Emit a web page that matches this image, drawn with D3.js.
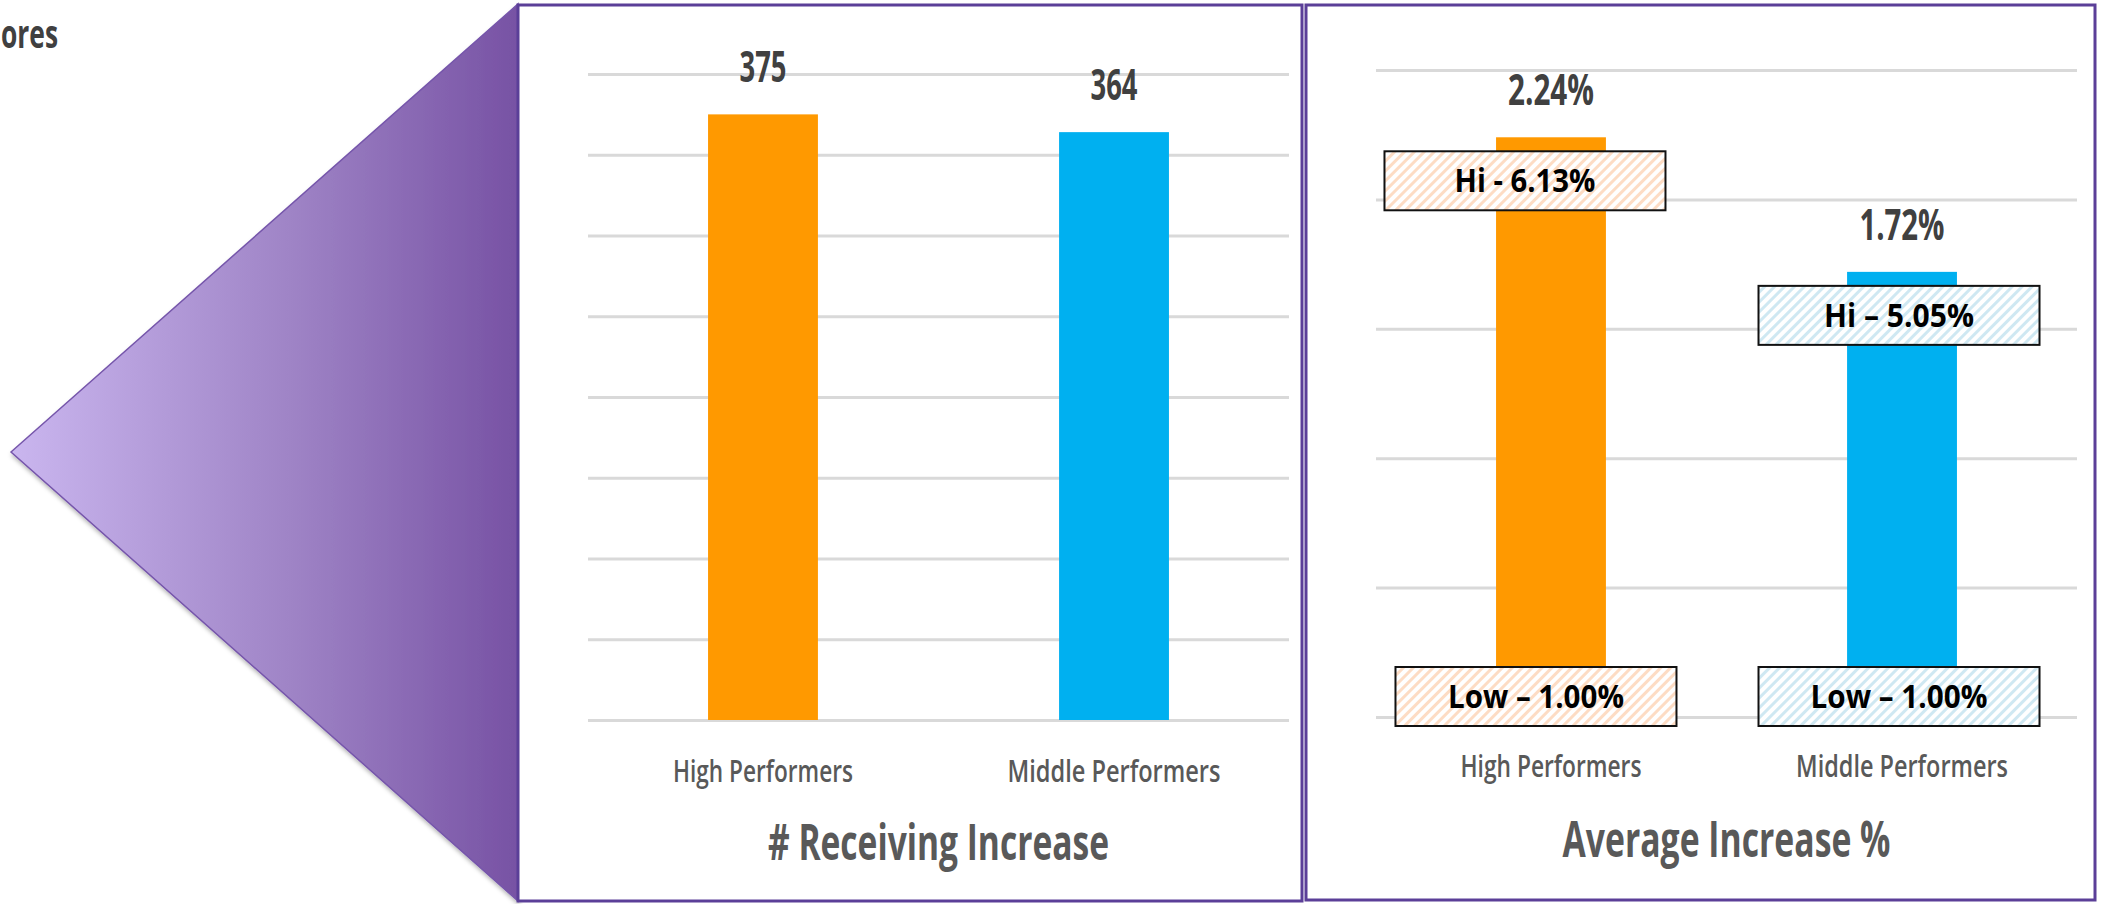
<!DOCTYPE html>
<html>
<head>
<meta charset="utf-8">
<script src="https://cdn.jsdelivr.net/npm/d3@7"></script>
<style>
  body { margin: 0; background: #fff; overflow: hidden; }
  svg { display: block; font-family: 'Open Sans', sans-serif; }
</style>
</head>
<body>
<div id="chart"></div>
<script>
// chart data
const categories = ['High Performers', 'Middle Performers']
const receivingIncrease = [375, 364]
const receivingLabels = ['375', '364']
const averageIncrease = [2.24, 1.72]
const averageLabels = ['2.24%', '1.72%']
const hiLabels = ['Hi - 6.13%', 'Hi \u2013 5.05%']
const lowLabels = ['Low \u2013 1.00%', 'Low \u2013 1.00%']
const countTicks = [0, 50, 100, 150, 200, 250, 300, 350, 400]
const percentTicks = [0, 0.5, 1, 1.5, 2, 2.5]
const panelTitles = ['# Receiving Increase', 'Average Increase %']

// styles
const barColors = ['#ff9900', '#00b0f0']
const hatchColors = ['#fddcc4', '#cfe8f2']
const frameColor = '#5b3f98'

const svg = d3.select('#chart')
    .append('svg')
    .attr('width', 2101)
    .attr('height', 904)

const defs = svg.append('defs')

// gradient + shadow for the callout triangle
const grad = defs.append('linearGradient')
    .attr('id', 'tri-grad')
    .attr('x1', '0%').attr('x2', '100%')
    .attr('y1', '0%').attr('y2', '0%')
grad.append('stop').attr('offset', '0%').attr('stop-color', '#cab6ef')
grad.append('stop').attr('offset', '55%').attr('stop-color', '#9f84c6')
grad.append('stop').attr('offset', '100%').attr('stop-color', '#7752a4')

const shadow = defs.append('filter').attr('id', 'tri-shadow')
    .attr('x', '-10%').attr('y', '-10%').attr('width', '130%').attr('height', '130%')
shadow.append('feDropShadow')
    .attr('dx', 1).attr('dy', 3).attr('stdDeviation', 2)
    .attr('flood-color', '#000').attr('flood-opacity', 0.3)

// diagonal hatch fills for the hi/low boxes
function addHatch(id, color) {
    const p = defs.append('pattern')
        .attr('id', id)
        .attr('patternUnits', 'userSpaceOnUse')
        .attr('width', 7)
        .attr('height', 7)
        .attr('patternTransform', 'rotate(45)')
    p.append('rect').attr('width', 7).attr('height', 7).attr('fill', '#fff')
    p.append('rect').attr('width', 3).attr('height', 7).attr('fill', color)
}
hatchColors.forEach((c, i) => addHatch('hatch-' + i, c))

// heading text at the top left (cut off by the slide crop)
svg.append('text')
    .attr('x', 1)
    .attr('y', 48)
    .attr('font-size', 40)
    .attr('font-weight', 700)
    .attr('fill', '#404040')
    .attr('textLength', 57)
    .attr('lengthAdjust', 'spacingAndGlyphs')
    .text('ores')

// callout triangle
svg.append('polygon')
    .attr('points', '11,452 518,4 518,901')
    .attr('fill', 'url(#tri-grad)')
    .attr('stroke', '#7656ab')
    .attr('stroke-width', 1.5)
    .attr('filter', 'url(#tri-shadow)')

function fit(sel, widths) {
    sel.attr('textLength', (d, i) => widths[i])
        .attr('lengthAdjust', 'spacingAndGlyphs')
}

function drawPanel(p) {
    const g = svg.append('g')

    // frame
    g.append('rect')
        .attr('x', p.frame[0])
        .attr('y', p.frame[1])
        .attr('width', p.frame[2] - p.frame[0])
        .attr('height', p.frame[3] - p.frame[1])
        .attr('fill', '#fff')
        .attr('stroke', frameColor)
        .attr('stroke-width', 3)

    const x = d3.scaleBand()
        .domain(categories)
        .range(p.xRange)
        .paddingInner(0.687)
        .paddingOuter(0.342)
    const y = d3.scaleLinear()
        .domain([0, p.ticks[p.ticks.length - 1]])
        .range(p.yRange)

    // gridlines
    g.append('g')
        .attr('transform', 'translate(' + p.xRange[0] + ',0)')
        .call(d3.axisLeft(y)
            .tickValues(p.ticks)
            .tickSize(-(p.xRange[1] - p.xRange[0]))
            .tickFormat(''))
        .call(a => a.select('.domain').remove())
        .call(a => a.selectAll('line').attr('stroke', '#d9d9d9').attr('stroke-width', 3))

    // bars
    g.selectAll('.bar')
        .data(p.values)
        .join('rect')
        .attr('x', (d, i) => x(categories[i]))
        .attr('y', d => y(d))
        .attr('width', x.bandwidth())
        .attr('height', d => y(0) - y(d))
        .attr('fill', (d, i) => barColors[i])

    // value labels
    g.selectAll('.value')
        .data(p.values)
        .join('text')
        .attr('x', (d, i) => x(categories[i]) + x.bandwidth() / 2)
        .attr('y', d => y(d) - 32)
        .attr('text-anchor', 'middle')
        .attr('font-size', 43)
        .attr('font-weight', 700)
        .attr('fill', '#404040')
        .text((d, i) => p.labels[i])
        .call(fit, p.valueWidths)

    // category axis
    g.append('g')
        .attr('transform', 'translate(0,' + p.catY + ')')
        .call(d3.axisBottom(x).tickSize(0).tickPadding(0))
        .call(a => a.select('.domain').remove())
        .attr('font-family', null)
        .attr('font-size', null)
        .call(a => a.selectAll('text')
            .attr('y', 0)
            .attr('dy', 0)
            .attr('font-size', 31)
            .attr('font-weight', 600)
            .attr('fill', '#595959')
            .call(fit, p.catWidths))

    // panel title
    g.append('text')
        .attr('x', (p.xRange[0] + p.xRange[1]) / 2)
        .attr('y', p.titleY)
        .attr('text-anchor', 'middle')
        .attr('font-size', 51)
        .attr('font-weight', 700)
        .attr('fill', '#595959')
        .attr('textLength', p.titleWidth)
        .attr('lengthAdjust', 'spacingAndGlyphs')
        .text(p.title)

    return { g, x, y }
}

// left panel: number receiving an increase
drawPanel({
    frame: [518, 5, 1302, 901],
    xRange: [588, 1289],
    yRange: [720, 74],
    ticks: countTicks,
    values: receivingIncrease,
    labels: receivingLabels,
    valueWidths: [47, 47],
    catWidths: [180, 213],
    catY: 782,
    title: panelTitles[0],
    titleY: 860,
    titleWidth: 341
})

// right panel: average increase %
const right = drawPanel({
    frame: [1306, 5, 2095, 900],
    xRange: [1376, 2077],
    yRange: [717, 70],
    ticks: percentTicks,
    values: averageIncrease,
    labels: averageLabels,
    valueWidths: [86, 85],
    catWidths: [181, 212],
    catY: 777,
    title: panelTitles[1],
    titleY: 857,
    titleWidth: 328
})

// hi / low range boxes
const boxW = 281, boxH = 59
function drawRangeBox(i, text, top, dx, width) {
    const cx = right.x(categories[i]) + right.x.bandwidth() / 2 + dx
    right.g.append('rect')
        .attr('x', cx - boxW / 2)
        .attr('y', top)
        .attr('width', boxW)
        .attr('height', boxH)
        .attr('fill', 'url(#hatch-' + i + ')')
        .attr('stroke', '#111')
        .attr('stroke-width', 2)
    right.g.append('text')
        .attr('x', cx)
        .attr('y', top + 41)
        .attr('text-anchor', 'middle')
        .attr('font-size', 32)
        .attr('font-weight', 700)
        .attr('fill', '#000')
        .attr('textLength', width)
        .attr('lengthAdjust', 'spacingAndGlyphs')
        .text(text)
}

const hiOffsets = [-26, -3], lowOffsets = [-15, -3]
const hiWidths = [141, 150], lowWidths = [176, 177]
categories.forEach((c, i) => {
    drawRangeBox(i, hiLabels[i], right.y(averageIncrease[i]) + 14, hiOffsets[i], hiWidths[i])
    drawRangeBox(i, lowLabels[i], right.y(0) - 50, lowOffsets[i], lowWidths[i])
})
</script>
</body>
</html>
